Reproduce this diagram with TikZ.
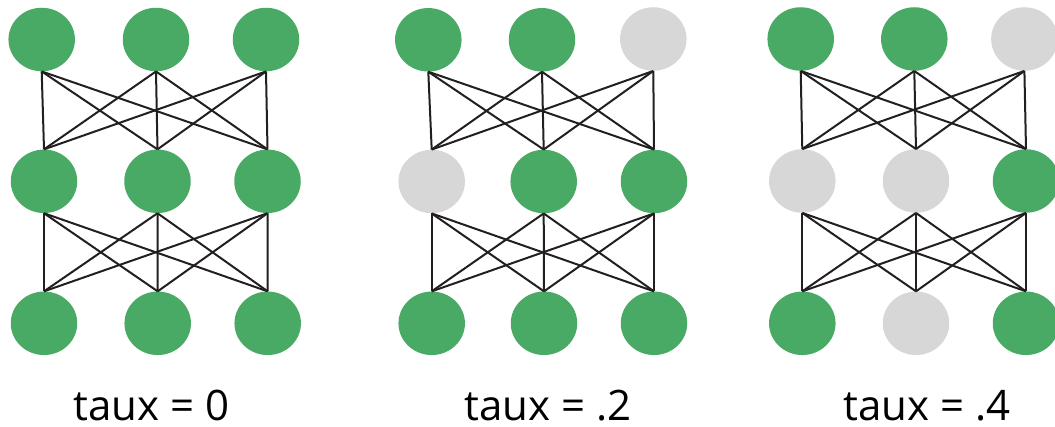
\documentclass[tikz,border=0pt]{standalone}
\usepackage{fontspec}
\setmainfont{Open Sans}
\usetikzlibrary{shapes.geometric}
\definecolor{unitgreen}{HTML}{48AA64}
\definecolor{unitgray}{HTML}{D7D7D7}
\definecolor{wire}{HTML}{231F20}
\begin{document}
\begin{tikzpicture}[x=1pt,y=-1pt,
  unit/.style={ellipse,minimum width=66.5pt,minimum height=63.5pt,inner sep=0pt},
  alive/.style={unit,fill=unitgreen},
  dropped/.style={unit,fill=unitgray},
  link/.style={draw=wire,line width=2pt},
  caption/.style={font=\fontsize{42}{48}\selectfont,anchor=base,inner sep=0pt}]
\useasboundingbox (0,0) rectangle (1055,427);

% network a: no dropout
\node[alive] (a11) at (41.7,39.5) {};
\node[alive] (a12) at (156,39.5) {};
\node[alive] (a13) at (266,39.5) {};
\node[alive] (a21) at (44,181.3) {};
\node[alive] (a22) at (157.5,181.3) {};
\node[alive] (a23) at (267.5,181.3) {};
\node[alive] (a31) at (44,323.3) {};
\node[alive] (a32) at (157.7,323.3) {};
\node[alive] (a33) at (267.7,323.3) {};

% network b: rate .2
\node[alive] (b11) at (428.3,39.8) {};
\node[alive] (b12) at (542,39.8) {};
\node[dropped] (b13) at (653.3,39) {};
\node[dropped] (b21) at (431.7,181.5) {};
\node[alive] (b22) at (543.7,181.5) {};
\node[alive] (b23) at (654,181.5) {};
\node[alive] (b31) at (431.7,323.3) {};
\node[alive] (b32) at (544,323.3) {};
\node[alive] (b33) at (654,323.3) {};

% network c: rate .4
\node[alive] (c11) at (800.7,39) {};
\node[alive] (c12) at (914.3,39) {};
\node[dropped] (c13) at (1024.4,39) {};
\node[dropped] (c21) at (802.3,181) {};
\node[dropped] (c22) at (916,181) {};
\node[alive] (c23) at (1026,181) {};
\node[alive] (c31) at (802.3,323.3) {};
\node[dropped] (c32) at (916,323.3) {};
\node[alive] (c33) at (1026,323.3) {};

% full connections between consecutive layers
\foreach \p in {a,b,c}
  \foreach \r/\s in {1/2,2/3}
    \foreach \i in {1,2,3}
      \foreach \j in {1,2,3}
        \draw[link] (\p\r\i.south) -- (\p\s\j.north);

% captions
\node[caption] (ta) at (151.3,420.5) {taux = 0};
\node[caption] (tb) at (548.3,420.5) {taux = .2};
\node[caption] (tc) at (926.7,420.5) {taux = .4};
\end{tikzpicture}
\end{document}
